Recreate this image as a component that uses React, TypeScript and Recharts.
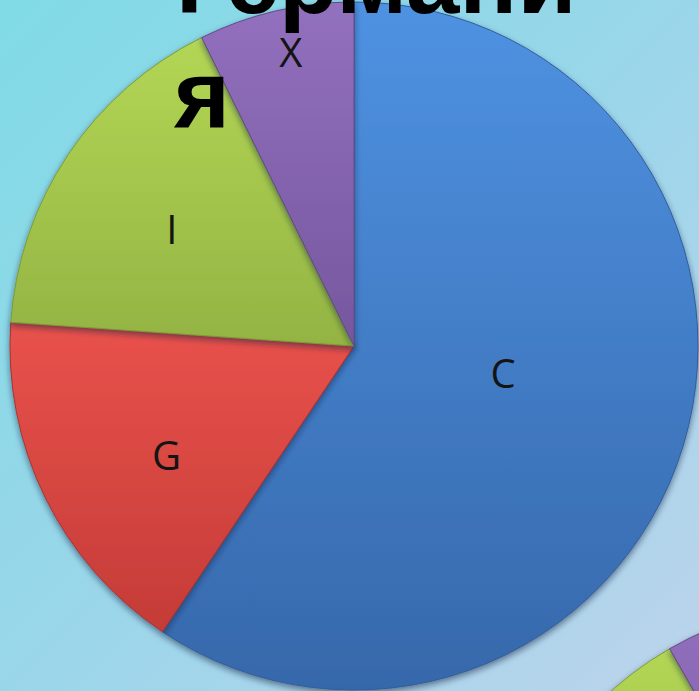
import { Cell, Pie, PieChart } from "recharts";

// main pie (Германия)
const categories = ["C", "G", "I", "X"];
const shares = [59.4, 16.7, 16.6, 7.3];
// neighbouring pie, only its top-left edge is on the slide
const nextShares = [55, 20, 16.7, 8.3];

const FILL = [
  { top: "#4f92e2", bottom: "#3668ab", line: "#2f5e9c" },
  { top: "#e9524c", bottom: "#c43b37", line: "#a83430" },
  { top: "#b3d655", bottom: "#93b443", line: "#7e9c36" },
  { top: "#9270be", bottom: "#76579e", line: "#654a88" },
];

// label radius (fraction of R) and angle nudge, in degrees
const LABEL_POS: Record<string, { r: number; da: number }> = {
  C: { r: 0.44, da: 7 },
  G: { r: 0.63, da: 4 },
  I: { r: 0.63, da: 1 },
  X: { r: 0.875, da: -1 },
};

const W = 699;
const H = 691;
const RAD = Math.PI / 180;

const data = categories.map((name, i) => ({ name, value: shares[i] }));
const nextData = categories.map((name, i) => ({ name, value: nextShares[i] }));

function renderLabel(p: any) {
  const pos = LABEL_POS[p.name] ?? { r: 0.6, da: 0 };
  const a = (p.midAngle + pos.da) * RAD;
  const r = p.outerRadius * pos.r;
  const x = p.cx + r * Math.cos(-a);
  const y = p.cy + r * Math.sin(-a);
  return (
    <text
      x={x}
      y={y}
      textAnchor="middle"
      dominantBaseline="central"
      fill="#141414"
      style={{ fontFamily: "'Open Sans', sans-serif", fontSize: 40 }}
    >
      {p.name}
    </text>
  );
}

export default function App() {
  return (
    <div
      style={{
        position: "fixed",
        left: 0,
        top: 0,
        width: W,
        height: H,
        overflow: "hidden",
        background: "linear-gradient(135deg, #80dbe6 0%, #9ad6ea 50%, #bcd4ec 100%)",
      }}
    >
      <PieChart width={W} height={H} margin={{ top: 0, right: 0, bottom: 0, left: 0 }}>
        <defs>
          {FILL.map((f, i) => (
            <linearGradient key={i} id={`g${i}`} x1="0" y1="0" x2="0" y2="1">
              <stop offset="0%" stopColor={f.top} />
              <stop offset="100%" stopColor={f.bottom} />
            </linearGradient>
          ))}
          <filter id="shadow" x="-10%" y="-10%" width="120%" height="120%">
            <feDropShadow dx="0" dy="3" stdDeviation="3" floodColor="#0b2240" floodOpacity="0.55" />
          </filter>
        </defs>
        <Pie
          data={nextData}
          dataKey="value"
          nameKey="name"
          cx={841}
          cy={947}
          outerRadius={344}
          startAngle={90}
          endAngle={-270}
          stroke="none"
          isAnimationActive={false}
          style={{ filter: "url(#shadow)" }}
        >
          {nextData.map((_, i) => (
            <Cell key={i} fill={`url(#g${i})`} stroke={FILL[i].line} strokeWidth={1} />
          ))}
        </Pie>
        <Pie
          data={data}
          dataKey="value"
          nameKey="name"
          cx={354}
          cy={346}
          outerRadius={344}
          startAngle={90}
          endAngle={-270}
          isAnimationActive={false}
          label={renderLabel}
          labelLine={false}
          style={{ filter: "url(#shadow)" }}
        >
          {data.map((_, i) => (
            <Cell key={i} fill={`url(#g${i})`} stroke={FILL[i].line} strokeWidth={1} />
          ))}
        </Pie>
      </PieChart>
      <svg width={W} height={H} style={{ position: "absolute", left: 0, top: 0, pointerEvents: "none" }}>
        <text
          fill="#000"
          style={{ fontFamily: "'Liberation Sans', Arial, sans-serif", fontWeight: 700, fontSize: 96 }}
        >
          <tspan x={176} y={13}>Германи</tspan>
          <tspan x={174} y={128}>я</tspan>
        </text>
      </svg>
    </div>
  );
}
